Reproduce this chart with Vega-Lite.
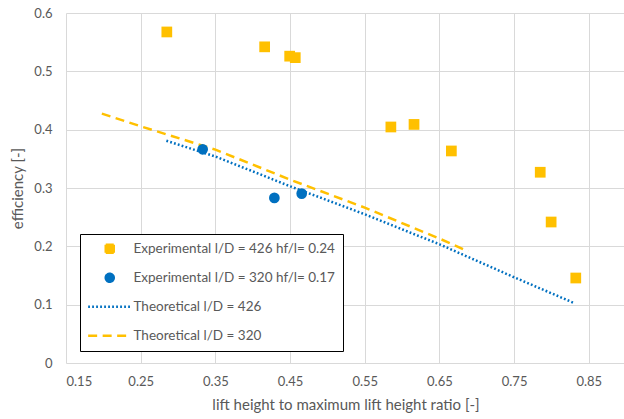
{
  "$schema": "https://vega.github.io/schema/vega-lite/v6.json",
  "width": 559,
  "height": 350,
  "autosize": "none",
  "padding": {"left": 66, "top": 13, "right": 0, "bottom": 56},
  "background": "white",
  "config": {
    "font": "Lato",
    "view": {"stroke": null},
    "axis": {
      "labelFont": "Lato", "titleFont": "Lato",
      "labelColor": "#595959", "titleColor": "#595959",
      "labelFontSize": 13, "titleFontSize": 15, "titleFontWeight": "normal",
      "gridColor": "#D9D9D9", "gridWidth": 1, "domain": false, "ticks": false
    }
  },
  "data": {"values": [
    {"series": "Experimental l/D = 426 hf/l= 0.24", "x": 0.285, "y": 0.5675},
    {"series": "Experimental l/D = 426 hf/l= 0.24", "x": 0.416, "y": 0.542},
    {"series": "Experimental l/D = 426 hf/l= 0.24", "x": 0.4495, "y": 0.526},
    {"series": "Experimental l/D = 426 hf/l= 0.24", "x": 0.457, "y": 0.5235},
    {"series": "Experimental l/D = 426 hf/l= 0.24", "x": 0.585, "y": 0.4046},
    {"series": "Experimental l/D = 426 hf/l= 0.24", "x": 0.616, "y": 0.409},
    {"series": "Experimental l/D = 426 hf/l= 0.24", "x": 0.666, "y": 0.3635},
    {"series": "Experimental l/D = 426 hf/l= 0.24", "x": 0.785, "y": 0.327},
    {"series": "Experimental l/D = 426 hf/l= 0.24", "x": 0.7996, "y": 0.2417},
    {"series": "Experimental l/D = 426 hf/l= 0.24", "x": 0.8326, "y": 0.1457},
    {"series": "Experimental l/D = 320 hf/l= 0.17", "x": 0.333, "y": 0.3664},
    {"series": "Experimental l/D = 320 hf/l= 0.17", "x": 0.429, "y": 0.283},
    {"series": "Experimental l/D = 320 hf/l= 0.17", "x": 0.4656, "y": 0.2904},
    {"series": "Theoretical l/D = 426", "x": 0.2844, "y": 0.381},
    {"series": "Theoretical l/D = 426", "x": 0.35, "y": 0.354},
    {"series": "Theoretical l/D = 426", "x": 0.45, "y": 0.303},
    {"series": "Theoretical l/D = 426", "x": 0.55, "y": 0.255},
    {"series": "Theoretical l/D = 426", "x": 0.65, "y": 0.2035},
    {"series": "Theoretical l/D = 426", "x": 0.75, "y": 0.147},
    {"series": "Theoretical l/D = 426", "x": 0.83, "y": 0.103},
    {"series": "Theoretical l/D = 320", "x": 0.198, "y": 0.4276},
    {"series": "Theoretical l/D = 320", "x": 0.25, "y": 0.4058},
    {"series": "Theoretical l/D = 320", "x": 0.35, "y": 0.3658},
    {"series": "Theoretical l/D = 320", "x": 0.45, "y": 0.3144},
    {"series": "Theoretical l/D = 320", "x": 0.55, "y": 0.2664},
    {"series": "Theoretical l/D = 320", "x": 0.65, "y": 0.2133},
    {"series": "Theoretical l/D = 320", "x": 0.6884, "y": 0.1915}
  ]},
  "encoding": {
    "x": {"field": "x", "type": "quantitative",
      "scale": {"domain": [0.15, 0.8985], "nice": false, "zero": false},
      "axis": {"values": [0.15, 0.25, 0.35, 0.45, 0.55, 0.65, 0.75, 0.85], "format": ".2f",
        "title": "lift height to maximum lift height ratio [-]", "labelPadding": 12, "titlePadding": 9}},
    "y": {"field": "y", "type": "quantitative",
      "scale": {"domain": [0, 0.6], "nice": false},
      "axis": {"values": [0, 0.1, 0.2, 0.3, 0.4, 0.5, 0.6], "format": "~g",
        "title": "efficiency [-]", "labelPadding": 14, "titlePadding": 8}},
    "color": {"field": "series", "type": "nominal",
      "scale": {
        "domain": ["Experimental l/D = 426 hf/l= 0.24", "Experimental l/D = 320 hf/l= 0.17", "Theoretical l/D = 426", "Theoretical l/D = 320"],
        "range": ["#FFC000", "#0070C0", "#0070C0", "#FFC000"]},
      "legend": {
        "title": null, "orient": "none", "legendX": 14, "legendY": 221,
        "direction": "vertical", "gridAlign": "all",
        "strokeColor": "#000000", "fillColor": "white", "padding": 8,
        "symbolSize": 64, "symbolOffset": 15, "labelOffset": 17, "rowPadding": 10,
        "labelFont": "Lato", "labelFontSize": 13.5, "labelColor": "#595959",
        "labelLimit": 400,
        "encode": {
          "symbols": {"update": {
            "fill": {"scale": "color", "field": "value"},
            "stroke": [
              {"test": "indexof(datum.value, 'Theoretical') === 0", "scale": "color", "field": "value"},
              {"value": "transparent"}
            ],
            "strokeWidth": {"value": 2.5},
            "opacity": {"value": 1},
            "shape": {"scale": "shape", "field": "value"},
            "strokeDash": {"scale": "strokeDash", "field": "value"}
          }}
        }
      }
    }
  },
  "layer": [
    {
      "transform": [{"filter": "indexof(datum.series, 'Theoretical') === 0"}],
      "mark": {"type": "line", "strokeWidth": 2.5, "strokeCap": "butt"},
      "encoding": {
        "strokeDash": {"field": "series", "type": "nominal",
          "scale": {
            "domain": ["Experimental l/D = 426 hf/l= 0.24", "Experimental l/D = 320 hf/l= 0.17", "Theoretical l/D = 426", "Theoretical l/D = 320"],
            "range": [[1, 0], [1, 0], [1.8, 2.2], [9, 5.5]]},
          "legend": null}
      }
    },
    {
      "transform": [{"filter": "indexof(datum.series, 'Experimental') === 0"}],
      "mark": {"type": "point", "filled": true, "opacity": 1, "size": 115},
      "encoding": {
        "shape": {"field": "series", "type": "nominal",
          "scale": {
            "domain": ["Experimental l/D = 426 hf/l= 0.24", "Experimental l/D = 320 hf/l= 0.17", "Theoretical l/D = 426", "Theoretical l/D = 320"],
            "range": ["square", "circle", "M-5.4,0H5.4", "M-5.4,0H5.4"]},
          "legend": null}
      }
    }
  ]
}
